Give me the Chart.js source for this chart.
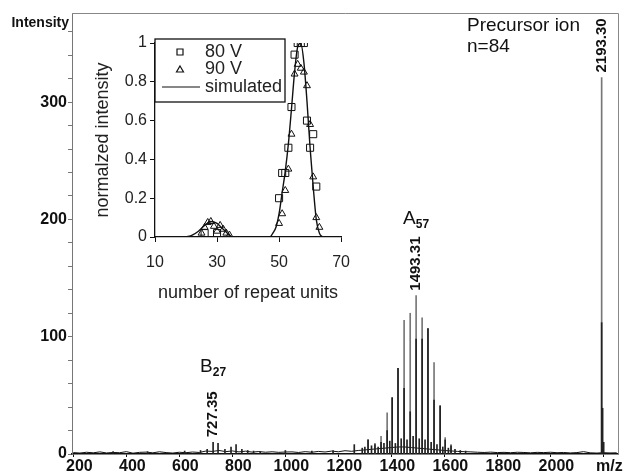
<!DOCTYPE html>
<html lang="en">
<head>
<meta charset="UTF-8">
<title>Mass spectrum with repeat-unit inset</title>
<script src="https://cdn.jsdelivr.net/npm/chart.js@4.4.1/dist/chart.umd.min.js"></script>
<style>
    body { margin: 0; background: #fff; }
    .wrap { position: relative; width: 628px; height: 474px; }
    #mainChart { position: absolute; left: 0; top: 0; }
    #insetChart { position: absolute; left: 90px; top: 30px; }
</style>
</head>
<body>
<div class="wrap">
    <canvas id="mainChart" width="628" height="474"></canvas>
    <canvas id="insetChart" width="271" height="280"></canvas>
</div>
<script>
// ---- main spectrum (m/z vs intensity) ----
const greyPeakMz  = [1312, 1338, 1361, 1384, 1403, 1425, 1448, 1471, 1493.31, 1516, 1538, 1561, 1584, 1603, 1625, 2193.30];
const greyPeakInt = [12, 9, 15, 35, 48, 73, 114, 120, 135, 116, 107, 78, 41, 14, 8, 321];

const blackPeakMz  = [350, 480, 620, 680, 705, 727.35, 746, 772, 795, 814, 836, 858, 880, 905, 1000, 1100, 1180,
                      1260, 1290, 1300, 1312, 1325, 1338, 1350, 1361, 1372, 1384, 1394, 1403, 1415, 1425, 1437,
                      1448, 1459, 1471, 1482, 1493.31, 1505, 1516, 1527, 1538, 1550, 1561, 1572, 1584, 1594,
                      1603, 1615, 1625, 1640, 1660, 1680, 2193.30, 2197, 2201];
const blackPeakInt = [2, 2, 2.5, 3, 4, 10, 9, 4, 6, 8, 4, 3, 2.5, 2, 3, 2.5, 3,
                      8, 5, 6, 12, 7, 8, 6, 10, 9, 20, 11, 48, 9, 73, 13,
                      56, 12, 36, 15, 98, 13, 98, 12, 107, 10, 46, 8, 41, 6,
                      12, 5, 7, 4, 3, 2.5, 112, 39, 10];

const noiseMz  = [200, 225, 250, 275, 300, 325, 350, 375, 400, 425, 450, 475, 500, 525, 550, 575, 600, 625, 650, 675,
                  700, 725, 750, 775, 800, 825, 850, 875, 900, 925, 950, 975, 1000, 1025, 1050, 1075, 1100, 1125,
                  1150, 1175, 1200, 1225, 1250, 1275, 1300, 1325, 1350, 1375, 1400, 1425, 1450, 1475, 1500, 1525,
                  1550, 1575, 1600, 1625, 1650, 1675, 1700, 1725, 1750, 1775, 1800, 1825, 1850, 1875, 1900, 1925,
                  1950, 1975, 2000, 2025, 2050, 2075, 2100, 2125, 2150, 2175, 2200, 2225, 2250];
const noiseInt = [1.2, 0.8, 1.5, 1.0, 1.8, 0.9, 1.3, 1.1, 2.0, 0.7, 1.4, 1.6, 1.0, 1.9, 1.2, 0.8, 1.5, 1.1, 1.7, 1.3,
                  2.5, 2.2, 3.0, 2.0, 2.6, 1.8, 2.4, 1.6, 2.1, 1.5, 1.9, 1.4, 1.7, 1.8, 1.3, 2.0, 1.5, 2.2,
                  1.7, 2.5, 1.9, 2.8, 2.3, 3.0, 3.5, 4.0, 4.5, 5.0, 5.5, 6.0, 6.0, 5.5, 5.0, 4.5,
                  4.0, 3.5, 3.0, 2.6, 2.2, 2.0, 1.8, 1.5, 1.3, 1.6, 1.2, 1.4, 1.1, 1.5, 1.3, 1.0,
                  1.4, 1.2, 1.5, 1.1, 1.3, 0.9, 1.2, 2.0, 1.0, 0.8, 1.1, 0.9, 1.0];

const xTickVals  = [200, 400, 600, 800, 1000, 1200, 1400, 1600, 1800, 2000, 2200];
const xTickText  = ['200', '400', '600', '800', '1000', '1200', '1400', '1600', '1800', '2000', 'm/z'];
const yTickVals  = [0, 20, 40, 60, 80, 100, 120, 140, 160, 180, 200, 220, 240, 260, 280, 300, 320, 340, 360];
const yTickText  = ['0', '', '', '', '', '100', '', '', '', '', '200', '', '', '', '', '300', '', '', ''];

const peakLabels = [
    { mz: 727.35, value: 10, text: '727.35' },
    { mz: 1493.31, value: 135, text: '1493.31' },
    { mz: 2193.30, value: 321, text: '2193.30' }
];
const fragLabels = [
    { mz: 727.35, value: 70, main: 'B', sub: '27' },
    { mz: 1493.31, value: 196, main: 'A', sub: '57' }
];

// ---- inset (repeat unit distribution) ----
const units80 = [26, 30, 50, 51, 52, 53, 54, 55, 56, 57, 58, 59, 60, 61, 62];
const norm80  = [0.02, 0.02, 0.20, 0.33, 0.33, 0.46, 0.67, 0.94, 1.0, 1.0, 1.0, 0.60, 0.46, 0.53, 0.26];
const units90 = [25, 26, 27, 28, 29, 30, 31, 32, 33, 34, 50, 51, 52, 53, 54, 55, 56, 57, 58, 59, 60, 61, 62, 63];
const norm90  = [0.02, 0.05, 0.075, 0.08, 0.055, 0.03, 0.06, 0.04, 0.02, 0.01,
                 0.07, 0.12, 0.24, 0.35, 0.53, 0.84, 0.89, 0.87, 0.85, 0.78, 0.58, 0.31, 0.10, 0.05];
const simUnits = [20, 22, 24, 26, 28, 30, 32, 34, 35, 47, 48, 49, 50, 51, 52, 53, 54, 55, 56, 57, 58, 59, 60, 61, 62, 63, 64];
const simNorm  = [0, 0.01, 0.03, 0.06, 0.08, 0.07, 0.04, 0.01, 0, 0, 0.02, 0.05, 0.12, 0.23, 0.34, 0.48, 0.66, 0.85,
                  0.98, 1.0, 0.9, 0.7, 0.46, 0.26, 0.09, 0.02, 0];
const insetXTicks = [10, 30, 50, 70];
const insetYTicks = [0, 0.2, 0.4, 0.6, 0.8, 1];

const FONT = '"Liberation Sans", Arial, sans-serif';
const zip = (xs, ys) => xs.map((x, i) => ({ x: x, y: ys[i] }));

const framePlugin = {
    id: 'frame',
    afterDraw(chart) {
        const { ctx, chartArea: a } = chart;
        ctx.save();
        ctx.strokeStyle = '#888';
        ctx.lineWidth = 1;
        ctx.beginPath();
        ctx.moveTo(a.left, a.top + 0.5);
        ctx.lineTo(a.right + 0.5, a.top + 0.5);
        ctx.lineTo(a.right + 0.5, a.bottom);
        ctx.stroke();
        ctx.restore();
    }
};

const annotationPlugin = {
    id: 'annotations',
    afterDraw(chart) {
        const { ctx, chartArea: a } = chart;
        const xs = chart.scales.x, ys = chart.scales.y;
        ctx.save();
        ctx.fillStyle = '#111';

        // rotated peak m/z labels
        ctx.font = 'bold 15px ' + FONT;
        peakLabels.forEach(p => {
            ctx.save();
            ctx.translate(xs.getPixelForValue(p.mz), ys.getPixelForValue(p.value) - 5);
            ctx.rotate(-Math.PI / 2);
            ctx.textAlign = 'left';
            ctx.textBaseline = 'middle';
            ctx.fillText(p.text, 0, 0);
            ctx.restore();
        });

        // fragment names with subscripts
        ctx.textBaseline = 'alphabetic';
        ctx.textAlign = 'left';
        fragLabels.forEach(f => {
            ctx.font = '19px ' + FONT;
            const wMain = ctx.measureText(f.main).width;
            ctx.font = 'bold 12px ' + FONT;
            const wSub = ctx.measureText(f.sub).width;
            const x0 = xs.getPixelForValue(f.mz) - (wMain + wSub) / 2;
            const y0 = ys.getPixelForValue(f.value);
            ctx.font = '19px ' + FONT;
            ctx.fillText(f.main, x0, y0);
            ctx.font = 'bold 12px ' + FONT;
            ctx.fillText(f.sub, x0 + wMain, y0 + 4);
        });

        // precursor text
        ctx.font = '19px ' + FONT;
        ctx.fillText('Precursor ion', a.right - 151, a.top + 18);
        ctx.fillText('n=84', a.right - 151, a.top + 39);

        // axis name
        ctx.font = 'bold 14px ' + FONT;
        ctx.textAlign = 'right';
        ctx.fillText('Intensity', a.left - 3, a.top + 14);
        ctx.restore();
    }
};

new Chart(document.getElementById('mainChart'), {
    type: 'bar',
    data: {
        datasets: [
            { type: 'bar', label: 'black', data: zip(blackPeakMz, blackPeakInt), backgroundColor: '#222', order: 0 },
            { type: 'line', label: 'noise', data: zip(noiseMz, noiseInt), borderColor: '#111', borderWidth: 1,
              pointRadius: 0, fill: false, order: 1 },
            { type: 'bar', label: 'grey', data: zip(greyPeakMz, greyPeakInt), backgroundColor: '#777', order: 2 }
        ]
    },
    options: {
        responsive: false,
        animation: false,
        layout: { padding: { top: 13, right: 10, left: 0, bottom: 0 } },
        datasets: { bar: { grouped: false, barThickness: 1 } },
        plugins: { legend: { display: false }, tooltip: { enabled: false } },
        scales: {
            x: {
                type: 'linear',
                min: 195,
                max: 2255,
                offset: false,
                afterBuildTicks: s => { s.ticks = xTickVals.map(v => ({ value: v })); },
                afterFit: s => { s.height = 20; },
                grid: { drawOnChartArea: false, drawTicks: true, tickLength: 3, color: '#111', offset: false },
                border: { color: '#111', width: 1.5 },
                ticks: {
                    autoSkip: false, maxRotation: 0, padding: 0, labelOffset: 6, color: '#111',
                    font: { family: FONT, size: 16, weight: 'bold' },
                    callback: (v, i) => xTickText[i]
                }
            },
            y: {
                min: 0,
                max: 376,
                afterBuildTicks: s => { s.ticks = yTickVals.map(v => ({ value: v })); },
                afterFit: s => { s.width = 72; },
                grid: { drawOnChartArea: false, drawTicks: true, tickLength: 4, color: '#777' },
                border: { color: '#777', width: 1 },
                ticks: {
                    autoSkip: false, padding: 1, color: '#111',
                    font: { family: FONT, size: 16, weight: 'bold' },
                    callback: (v, i) => yTickText[i]
                }
            }
        }
    },
    plugins: [framePlugin, annotationPlugin]
});

// ---- inset chart ----
const insetLegend = {
    id: 'insetLegend',
    afterDraw(chart) {
        const { ctx, chartArea: a } = chart;
        const x0 = a.left, y0 = a.top - 4, w = 130, h = 63;
        ctx.save();
        ctx.fillStyle = '#fff';
        ctx.fillRect(x0, y0, w, h);
        ctx.strokeStyle = '#111';
        ctx.lineWidth = 1.3;
        ctx.strokeRect(x0, y0, w, h);
        ctx.font = '18px ' + FONT;
        ctx.textBaseline = 'middle';
        chart.data.datasets.forEach((ds, i) => {
            const y = y0 + 13 + i * 17.5;
            const mx = x0 + 25;
            ctx.strokeStyle = '#111';
            ctx.lineWidth = 1.2;
            ctx.beginPath();
            if (ds.showLine) {
                ctx.moveTo(x0 + 7, y);
                ctx.lineTo(x0 + 45, y);
            } else if (ds.pointStyle === 'rect') {
                ctx.rect(mx - 3, y - 3, 6, 6);
            } else {
                ctx.moveTo(mx, y - 3.5);
                ctx.lineTo(mx + 3.5, y + 2.5);
                ctx.lineTo(mx - 3.5, y + 2.5);
                ctx.closePath();
            }
            ctx.stroke();
            ctx.fillStyle = '#222';
            ctx.fillText(ds.label, x0 + 50, y);
        });
        ctx.restore();
    }
};

new Chart(document.getElementById('insetChart'), {
    type: 'scatter',
    data: {
        datasets: [
            { label: '80 V', data: zip(units80, norm80), pointStyle: 'rect', pointRadius: 5,
              borderColor: '#111', borderWidth: 1, backgroundColor: 'rgba(0,0,0,0)', showLine: false },
            { label: '90 V', data: zip(units90, norm90), pointStyle: 'triangle', pointRadius: 4,
              borderColor: '#111', borderWidth: 1, backgroundColor: 'rgba(0,0,0,0)', showLine: false },
            { label: 'simulated', data: zip(simUnits, simNorm), showLine: true, pointRadius: 0,
              borderColor: '#111', borderWidth: 1.4, cubicInterpolationMode: 'monotone', fill: false }
        ]
    },
    options: {
        responsive: false,
        animation: false,
        layout: { padding: { top: 13, right: 8, left: 0, bottom: 0 } },
        plugins: { legend: { display: false }, tooltip: { enabled: false } },
        scales: {
            x: {
                type: 'linear',
                min: 10,
                max: 70,
                afterBuildTicks: s => { s.ticks = insetXTicks.map(v => ({ value: v })); },
                afterFit: s => { s.height = 73; },
                grid: { drawOnChartArea: false, tickLength: 5, color: '#111' },
                border: { color: '#111', width: 1.3 },
                ticks: { padding: 11, color: '#222', maxRotation: 0, font: { family: FONT, size: 16 } },
                title: { display: true, text: 'number of repeat units', color: '#222',
                         font: { family: FONT, size: 18 }, padding: { top: 6, bottom: 6 } }
            },
            y: {
                min: 0,
                max: 1,
                afterBuildTicks: s => { s.ticks = insetYTicks.map(v => ({ value: v })); },
                afterFit: s => { s.width = 65; },
                grid: { drawOnChartArea: false, tickLength: 5, color: '#111' },
                border: { color: '#111', width: 1.3 },
                ticks: { padding: 3, color: '#222', font: { family: FONT, size: 16 }, callback: v => String(v) },
                title: { display: true, text: 'normalzed intensity', color: '#222',
                         font: { family: FONT, size: 18 }, padding: { top: 2, bottom: 2 } }
            }
        }
    },
    plugins: [insetLegend]
});
</script>
</body>
</html>
